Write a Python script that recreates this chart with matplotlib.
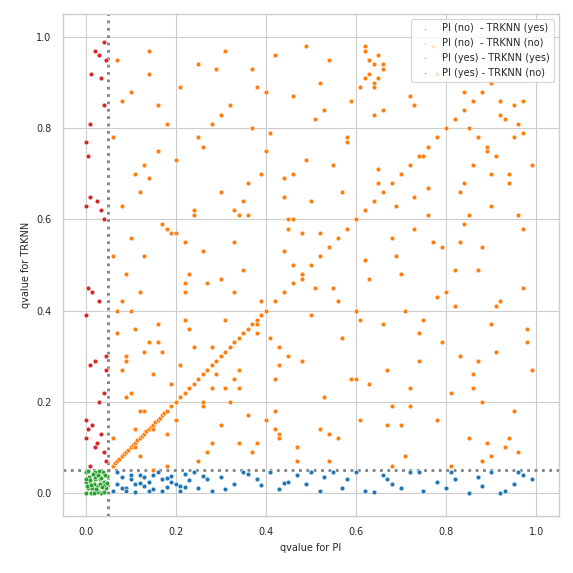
import matplotlib
matplotlib.use("Agg")
import matplotlib.pyplot as plt
import seaborn as sns

# PI (no) - TRKNN (yes)
blue_x = [0.06,0.07,0.08,0.09,0.10,0.11,0.12,0.13,0.14,0.15,0.16,0.17,0.18,0.19,0.20,0.21,0.22,0.23,0.25,0.27,
          0.07,0.09,0.11,0.13,0.15,0.17,0.19,0.21,0.24,0.28,0.30,0.33,0.36,0.38,0.41,0.43,0.45,0.47,0.49,0.52,
          0.53,0.55,0.58,0.62,0.64,0.66,0.68,0.70,0.72,0.75,0.78,0.80,0.82,0.85,0.88,0.90,0.93,0.95,0.97,0.99,
          0.08,0.10,0.12,0.14,0.18,0.22,0.26,0.31,0.35,0.39,0.44,0.50,0.57,0.60,0.67,0.74,0.81,0.87,0.92,0.96]
blue_y = [0.005,0.02,0.035,0.01,0.03,0.002,0.04,0.015,0.025,0.008,0.045,0.03,0.012,0.038,0.02,0.005,0.042,0.028,0.01,0.03,
          0.045,0.005,0.02,0.035,0.04,0.005,0.025,0.015,0.045,0.005,0.035,0.02,0.042,0.03,0.045,0.008,0.025,0.04,0.02,0.005,
          0.035,0.045,0.03,0.005,0.002,0.04,0.02,0.01,0.045,0.005,0.025,0.01,0.03,0.0,0.015,0.045,0.005,0.02,0.04,0.03,
          0.01,0.04,0.022,0.005,0.033,0.012,0.038,0.008,0.045,0.018,0.022,0.045,0.01,0.045,0.03,0.045,0.045,0.035,0.0,0.045]

# PI (yes) - TRKNN (yes)
green_x = [0.0,0.005,0.01,0.015,0.02,0.025,0.03,0.035,0.04,0.045,0.0,0.008,0.012,0.018,0.022,0.028,0.033,0.038,0.042,0.048,
           0.002,0.006,0.014,0.02,0.026,0.031,0.036,0.044,0.0,0.01,0.016,0.024,0.03,0.04,0.047,0.004,0.019,0.034,0.012,0.027]
green_y = [0.0,0.01,0.02,0.005,0.03,0.015,0.04,0.0,0.025,0.01,0.045,0.035,0.0,0.02,0.045,0.005,0.03,0.045,0.018,0.038,
           0.025,0.048,0.01,0.035,0.002,0.02,0.012,0.04,0.03,0.028,0.042,0.008,0.048,0.003,0.022,0.015,0.0,0.033,0.018,0.04]

# PI (yes) - TRKNN (no)
red_x = [0.0,0.005,0.01,0.02,0.03,0.04,0.045,0.0,0.01,0.025,0.035,0.04,0.005,0.015,0.03,0.045,0.0,0.02,0.04,0.01,
         0.03,0.045,0.0,0.015,0.035,0.005,0.025,0.04,0.01,0.045,0.02,0.0,0.035,0.012,0.042]
red_y = [0.77,0.74,0.81,0.97,0.96,0.99,0.95,0.63,0.65,0.64,0.62,0.60,0.45,0.44,0.42,0.30,0.39,0.29,0.22,0.28,
         0.20,0.27,0.16,0.15,0.13,0.14,0.11,0.09,0.06,0.07,0.10,0.12,0.91,0.92,0.85]

# PI (no) - TRKNN (no): diagonal and scattered points
diag = [0.06,0.065,0.07,0.075,0.08,0.085,0.09,0.095,0.10,0.105,0.11,0.115,0.12,0.125,0.13,0.135,0.14,0.145,0.15,0.155,
        0.16,0.165,0.17,0.175,0.18,0.19,0.20,0.21,0.22,0.23,0.24,0.25,0.26,0.27,0.28,0.29,0.30,0.31,0.32,0.33,
        0.34,0.35,0.36,0.37,0.38,0.39,0.40,0.42,0.44,0.46,0.48,0.50,0.52,0.54,0.56,0.58,0.60,0.62,0.64,0.66,
        0.68,0.70,0.72,0.74,0.76,0.78,0.80,0.82,0.84,0.86,0.88,0.90]
orange_x = diag + [
    0.06,0.07,0.08,0.09,0.10,0.11,0.12,0.13,0.14,0.15,0.07,0.09,0.11,0.13,0.15,0.17,0.06,0.08,0.10,0.12,
    0.14,0.16,0.18,0.09,0.11,0.13,0.16,0.19,0.21,0.22,0.24,0.25,0.27,0.28,0.30,0.31,0.33,0.34,0.36,0.37,
    0.39,0.40,0.18,0.20,0.23,0.26,0.29,0.32,0.35,0.38,0.41,0.43,0.45,0.47,0.49,0.51,0.53,0.55,0.57,0.59,
    0.61,0.63,0.65,0.67,0.69,0.71,0.73,0.75,0.77,0.79,0.81,0.83,0.85,0.87,0.89,0.91,0.93,0.95,0.97,0.99,
    0.21,0.24,0.27,0.30,0.33,0.36,0.39,0.42,0.45,0.48,0.51,0.54,0.57,0.60,0.63,0.66,0.69,0.72,0.75,0.78,
    0.81,0.84,0.87,0.90,0.93,0.96,0.98,0.22,0.26,0.30,0.34,0.38,0.42,0.46,0.50,0.54,0.58,0.62,0.66,0.70,
    0.74,0.78,0.82,0.86,0.90,0.94,0.97,0.20,0.25,0.29,0.33,0.37,0.41,0.44,0.48,0.52,0.56,0.61,0.65,0.68,
    0.72,0.76,0.80,0.84,0.88,0.92,0.96,0.99,0.62,0.63,0.64,0.63,0.62,0.64,0.65,0.66,0.62,0.64,0.85,0.87,
    0.89,0.91,0.93,0.95,0.86,0.90,0.94,0.97,0.07,0.09,0.12,0.15,0.18,0.23,0.28,0.33,0.38,0.43,0.47,0.52,
    0.57,0.68,0.73,0.79,0.83,0.88,0.92,0.96,0.44,0.45,0.46,0.43,0.42,0.47,0.35,0.31,0.26,0.17,0.14,0.11,
    0.06,0.08,0.10,0.12,0.14,0.16,0.18,0.20,0.22,0.24,0.26,0.28,0.30,0.32,0.34,0.36,0.38,0.40,0.42,0.44,
    0.46,0.48,0.50,0.52,0.54,0.56,0.58,0.60,0.64,0.66,0.68,0.70,0.72,0.74,0.76,0.78,0.80,0.82,0.84,0.86,
    0.88,0.90,0.92,0.94,0.96,0.98,0.08,0.13,0.19,0.25,0.31,0.37,0.43,0.49,0.55,0.61,0.67,0.73,0.79,0.85,
    0.91,0.97,0.10,0.16,0.22,0.28,0.34,0.40,0.46,0.53,0.59,0.65,0.71,0.77,0.83,0.89,0.95]
orange_y = diag + [
    0.78,0.95,0.63,0.21,0.56,0.14,0.08,0.31,0.92,0.05,0.35,0.48,0.70,0.18,0.26,0.59,0.12,0.86,0.40,0.66,
    0.97,0.33,0.06,0.29,0.10,0.52,0.75,0.24,0.89,0.38,0.62,0.07,0.46,0.81,0.15,0.97,0.55,0.27,0.68,0.09,
    0.42,0.88,0.13,0.73,0.36,0.53,0.93,0.20,0.64,0.11,0.79,0.32,0.58,0.07,0.98,0.45,0.21,0.72,0.34,0.86,
    0.16,0.47,0.91,0.27,0.63,0.08,0.85,0.38,0.55,0.96,0.22,0.66,0.12,0.49,0.75,0.31,0.92,0.18,0.58,0.72,
    0.28,0.61,0.09,0.83,0.44,0.17,0.70,0.96,0.30,0.57,0.82,0.13,0.66,0.40,0.24,0.94,0.52,0.19,0.74,0.43,
    0.06,0.88,0.29,0.63,0.10,0.81,0.36,0.46,0.19,0.66,0.11,0.89,0.25,0.60,0.39,0.07,0.77,0.51,0.84,0.15,
    0.35,0.92,0.49,0.26,0.08,0.70,0.45,0.57,0.78,0.26,0.62,0.93,0.34,0.69,0.47,0.90,0.12,0.38,0.71,0.56,
    0.23,0.67,0.44,0.59,0.20,0.86,0.99,0.27,0.97,0.95,0.94,0.92,0.91,0.90,0.96,0.93,0.98,0.89,0.80,0.78,
    0.76,0.74,0.82,0.85,0.72,0.70,0.68,0.79,0.40,0.30,0.18,0.14,0.58,0.48,0.32,0.25,0.37,0.13,0.10,0.57,
    0.34,0.06,0.65,0.54,0.30,0.07,0.42,0.09,0.65,0.60,0.70,0.12,0.14,0.10,0.49,0.23,0.20,0.31,0.33,0.36,
    0.52,0.27,0.88,0.44,0.69,0.37,0.81,0.16,0.55,0.32,0.76,0.11,0.47,0.85,0.23,0.61,0.35,0.75,0.18,0.53,
    0.87,0.29,0.64,0.14,0.95,0.42,0.78,0.25,0.83,0.37,0.19,0.48,0.87,0.29,0.61,0.16,0.93,0.41,0.68,0.23,
    0.54,0.37,0.83,0.12,0.61,0.33,0.42,0.72,0.57,0.94,0.38,0.80,0.28,0.73,0.45,0.89,0.15,0.58,0.33,0.61,
    0.41,0.86,0.22,0.85,0.44,0.23,0.61,0.16,0.50,0.84,0.25,0.68,0.40,0.98,0.55,0.11,0.78]

labels = ["PI (no)  - TRKNN (yes)", "PI (no)  - TRKNN (no)", "PI (yes) - TRKNN (yes)", "PI (yes) - TRKNN (no)"]
colors = ["#1f77b4", "#ff7f0e", "#2ca02c", "#d62728"]

sns.set_theme(style="whitegrid", context="paper")
fig, ax = plt.subplots(figsize=(5.73, 5.73), dpi=100)
ax.axvline(0.05, color="grey", ls=":", lw=2, zorder=1)
ax.axhline(0.05, color="grey", ls=":", lw=2, zorder=1)
for xs, ys, c, l in [(blue_x, blue_y, colors[0], labels[0]), (orange_x, orange_y, colors[1], labels[1]),
                     (green_x, green_y, colors[2], labels[2]), (red_x, red_y, colors[3], labels[3])]:
    ax.scatter(xs, ys, s=12, c=c, edgecolors="white", linewidths=0.4, label=l, zorder=2)
ax.set_xlim(-0.05, 1.05)
ax.set_ylim(-0.05, 1.05)
ax.set_xticks([0, 0.2, 0.4, 0.6, 0.8, 1.0])
ax.set_yticks([0, 0.2, 0.4, 0.6, 0.8, 1.0])
ax.tick_params(labelsize=7)
ax.set_xlabel("qvalue for PI", fontsize=7)
ax.set_ylabel("qvalue for TRKNN", fontsize=7)
ax.legend(loc="upper right", fontsize=7, markerscale=0.3, framealpha=0.8)
fig.subplots_adjust(left=0.11, right=0.975, bottom=0.1, top=0.975)
fig.savefig("out.png", dpi=100)
